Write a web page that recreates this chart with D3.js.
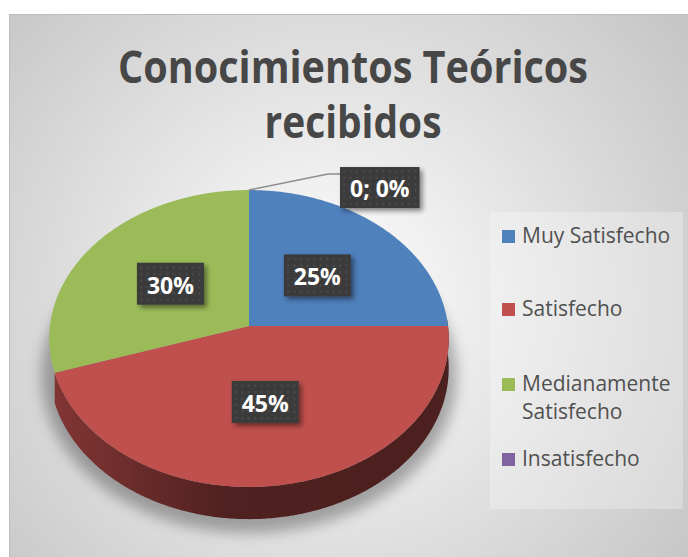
<!DOCTYPE html>
<html><head><meta charset="utf-8">
<script src="https://cdn.jsdelivr.net/npm/d3@7/dist/d3.min.js"></script>
<style>html,body{margin:0;padding:0;background:#fff;}svg{display:block;}</style>
</head><body>
<svg id="c" width="688" height="557"></svg>
<script>
const title = ["Conocimientos Teóricos", "recibidos"];
const categories = ["Muy Satisfecho", "Satisfecho", "Medianamente Satisfecho", "Insatisfecho"];
const legendLines = [["Muy Satisfecho"], ["Satisfecho"], ["Medianamente", "Satisfecho"], ["Insatisfecho"]];
const values = [25, 45, 30, 0];
const labels = ["25%", "45%", "30%", "0; 0%"];
const colors = ["#4f81bd", "#c0504d", "#9bbb59", "#8064a2"];

const svg = d3.select("#c");
const defs = svg.append("defs");

// background gradient
const bg = defs.append("radialGradient").attr("id", "bg").attr("gradientUnits", "userSpaceOnUse")
  .attr("cx", 330).attr("cy", 300).attr("r", 460);
bg.append("stop").attr("offset", "0%").attr("stop-color", "#ffffff");
bg.append("stop").attr("offset", "100%").attr("stop-color", "#c4c4c4");

// label pattern
const pat = defs.append("pattern").attr("id", "dots").attr("patternUnits", "userSpaceOnUse")
  .attr("width", 6.5).attr("height", 6.5);
pat.append("rect").attr("width", 6.5).attr("height", 6.5).attr("fill", "#3b3b3b");
pat.append("rect").attr("x", 2.5).attr("y", 2.5).attr("width", 1.5).attr("height", 1.5).attr("fill", "#565656");

const fShadow = defs.append("filter").attr("id", "lblsh").attr("x", "-30%").attr("y", "-30%").attr("width", "160%").attr("height", "160%");
fShadow.append("feDropShadow").attr("dx", 3).attr("dy", 3).attr("stdDeviation", 2.5).attr("flood-color", "#000").attr("flood-opacity", 0.45);

const fBlur = defs.append("filter").attr("id", "pieblur").attr("x", "-20%").attr("y", "-20%").attr("width", "140%").attr("height", "140%");
fBlur.append("feGaussianBlur").attr("stdDeviation", 7);

// background
svg.append("rect").attr("x", 9).attr("y", 14).attr("width", 679).attr("height", 543).attr("fill", "url(#bg)");
svg.append("path").attr("d", "M9.5,557V14.5H688").attr("fill", "none").attr("stroke", "#bdbdbd").attr("stroke-width", 1);

// legend box
svg.append("rect").attr("x", 490).attr("y", 212).attr("width", 193).attr("height", 297)
  .attr("fill", "#ffffff").attr("fill-opacity", 0.28);

// pie geometry (perspective 3D)
const cx = 249, cy = 326, rx = 199, ry = 147.4, K = 11.9, H = 29.5;
function proj(theta, r, h) {
  const x = r * Math.sin(theta), d = -r * Math.cos(theta);
  const s = K / (K - d);
  return [cx + rx * x * s, cy + ry * d * s + (h || 0) * s];
}
const line = d3.line();
function arcPts(a0, a1, r, h) {
  const n = Math.max(2, Math.ceil(Math.abs(a1 - a0) / 0.01));
  return d3.range(n + 1).map(i => proj(a0 + (a1 - a0) * i / n, r, h));
}
function topPath(a0, a1) {
  return line([proj(0, 0)].concat(arcPts(a0, a1, 1, 0))) + "Z";
}
function wallPath(a0, a1) {
  return line(arcPts(a0, a1, 1, 0).concat(arcPts(a1, a0, 1, H))) + "Z";
}

const pie = d3.pie().sort(null).value(d => d.v).startAngle(0).endAngle(2 * Math.PI);
const data = categories.map((c, i) => ({ c, v: values[i], label: labels[i], color: colors[i] }));
const arcs = pie(data);

// shadow
svg.append("path").attr("d", line(arcPts(0, 2 * Math.PI, 1.04, H + 6)) + "Z")
  .attr("fill", "#000").attr("fill-opacity", 0.3).attr("filter", "url(#pieblur)");

// walls (front visible part)
const wallStart = Math.PI / 2 - 0.05, wallEnd = 1.4 * Math.PI;
arcs.forEach((a, i) => {
  const a0 = Math.max(a.startAngle, wallStart), a1 = Math.min(a.endAngle, wallEnd);
  if (a1 <= a0 || a.value === 0) return;
  const g = defs.append("linearGradient").attr("id", "wall" + i).attr("gradientUnits", "userSpaceOnUse")
    .attr("x1", cx - rx).attr("x2", cx + rx).attr("y1", 0).attr("y2", 0);
  const base = d3.color(a.data.color);
  g.append("stop").attr("offset", "0%").attr("stop-color", base.darker(1.1));
  g.append("stop").attr("offset", "45%").attr("stop-color", base.darker(2.5));
  g.append("stop").attr("offset", "100%").attr("stop-color", base.darker(2.6));
  svg.append("path").attr("d", wallPath(a0, a1)).attr("fill", "url(#wall" + i + ")");
});

// tops
arcs.forEach(a => {
  if (a.value === 0) return;
  svg.append("path").attr("d", topPath(a.startAngle, a.endAngle)).attr("fill", a.data.color);
});

// labels
const lblFont = "'Open Sans', sans-serif";
arcs.forEach(a => {
  let px, py;
  const mid = (a.startAngle + a.endAngle) / 2;
  if (a.value === 0) {
    const p0 = proj(a.startAngle, 1);
    const elbow = [p0[0] + 79, p0[1] - 16];
    const end = [p0[0] + 91, p0[1] - 16];
    svg.append("path").attr("d", line([p0, elbow, end])).attr("fill", "none").attr("stroke", "#8c8c8c").attr("stroke-width", 1.5);
    px = end[0]; py = end[1] + 13.5;
    const g = svg.append("g");
    const t = g.append("text").attr("x", 0).attr("y", 0).attr("font-family", lblFont).attr("font-weight", 700)
      .attr("font-size", 23).attr("fill", "#fff").attr("text-anchor", "middle").attr("dominant-baseline", "central").text(a.data.label);
    const w = t.node().getComputedTextLength() + 20;
    g.insert("rect", "text").attr("x", -w / 2).attr("y", -20.5).attr("width", w).attr("height", 41).attr("fill", "url(#dots)").attr("filter", "url(#lblsh)");
    g.attr("transform", `translate(${px + w / 2},${py})`);
    return;
  }
  [px, py] = proj(mid, 0.5);
  const g = svg.append("g").attr("transform", `translate(${px},${py})`);
  const t = g.append("text").attr("x", 0).attr("y", 1).attr("font-family", lblFont).attr("font-weight", 700)
    .attr("font-size", 23).attr("fill", "#fff").attr("text-anchor", "middle").attr("dominant-baseline", "central").text(a.data.label);
  const w = t.node().getComputedTextLength() + 20;
  g.insert("rect", "text").attr("x", -w / 2).attr("y", -21).attr("width", w).attr("height", 42).attr("fill", "url(#dots)").attr("filter", "url(#lblsh)");
});

// legend
const legBase = [243, 316, 391, 466];
categories.forEach((c, i) => {
  const lines = legendLines[i];
  const baseY = legBase[i];
  svg.append("rect").attr("x", 502).attr("y", baseY - 13).attr("width", 13).attr("height", 13).attr("fill", colors[i]);
  lines.forEach((l, j) => {
    svg.append("text").attr("x", 522).attr("y", baseY + j * 28).attr("font-family", "'Open Sans', sans-serif")
      .attr("font-size", 21).attr("fill", "#505050").text(l);
  });
});

// title
title.forEach((t, i) => {
  const el = svg.append("text").attr("x", 353).attr("y", [83, 138][i]).attr("text-anchor", "middle")
    .attr("font-family", "'Open Sans', sans-serif").attr("font-weight", 700).attr("font-size", 45)
    .attr("fill", "#474747").text(t);
  const target = [470, 177][i];
  el.attr("textLength", target).attr("lengthAdjust", "spacingAndGlyphs");
});
</script>
</body></html>
